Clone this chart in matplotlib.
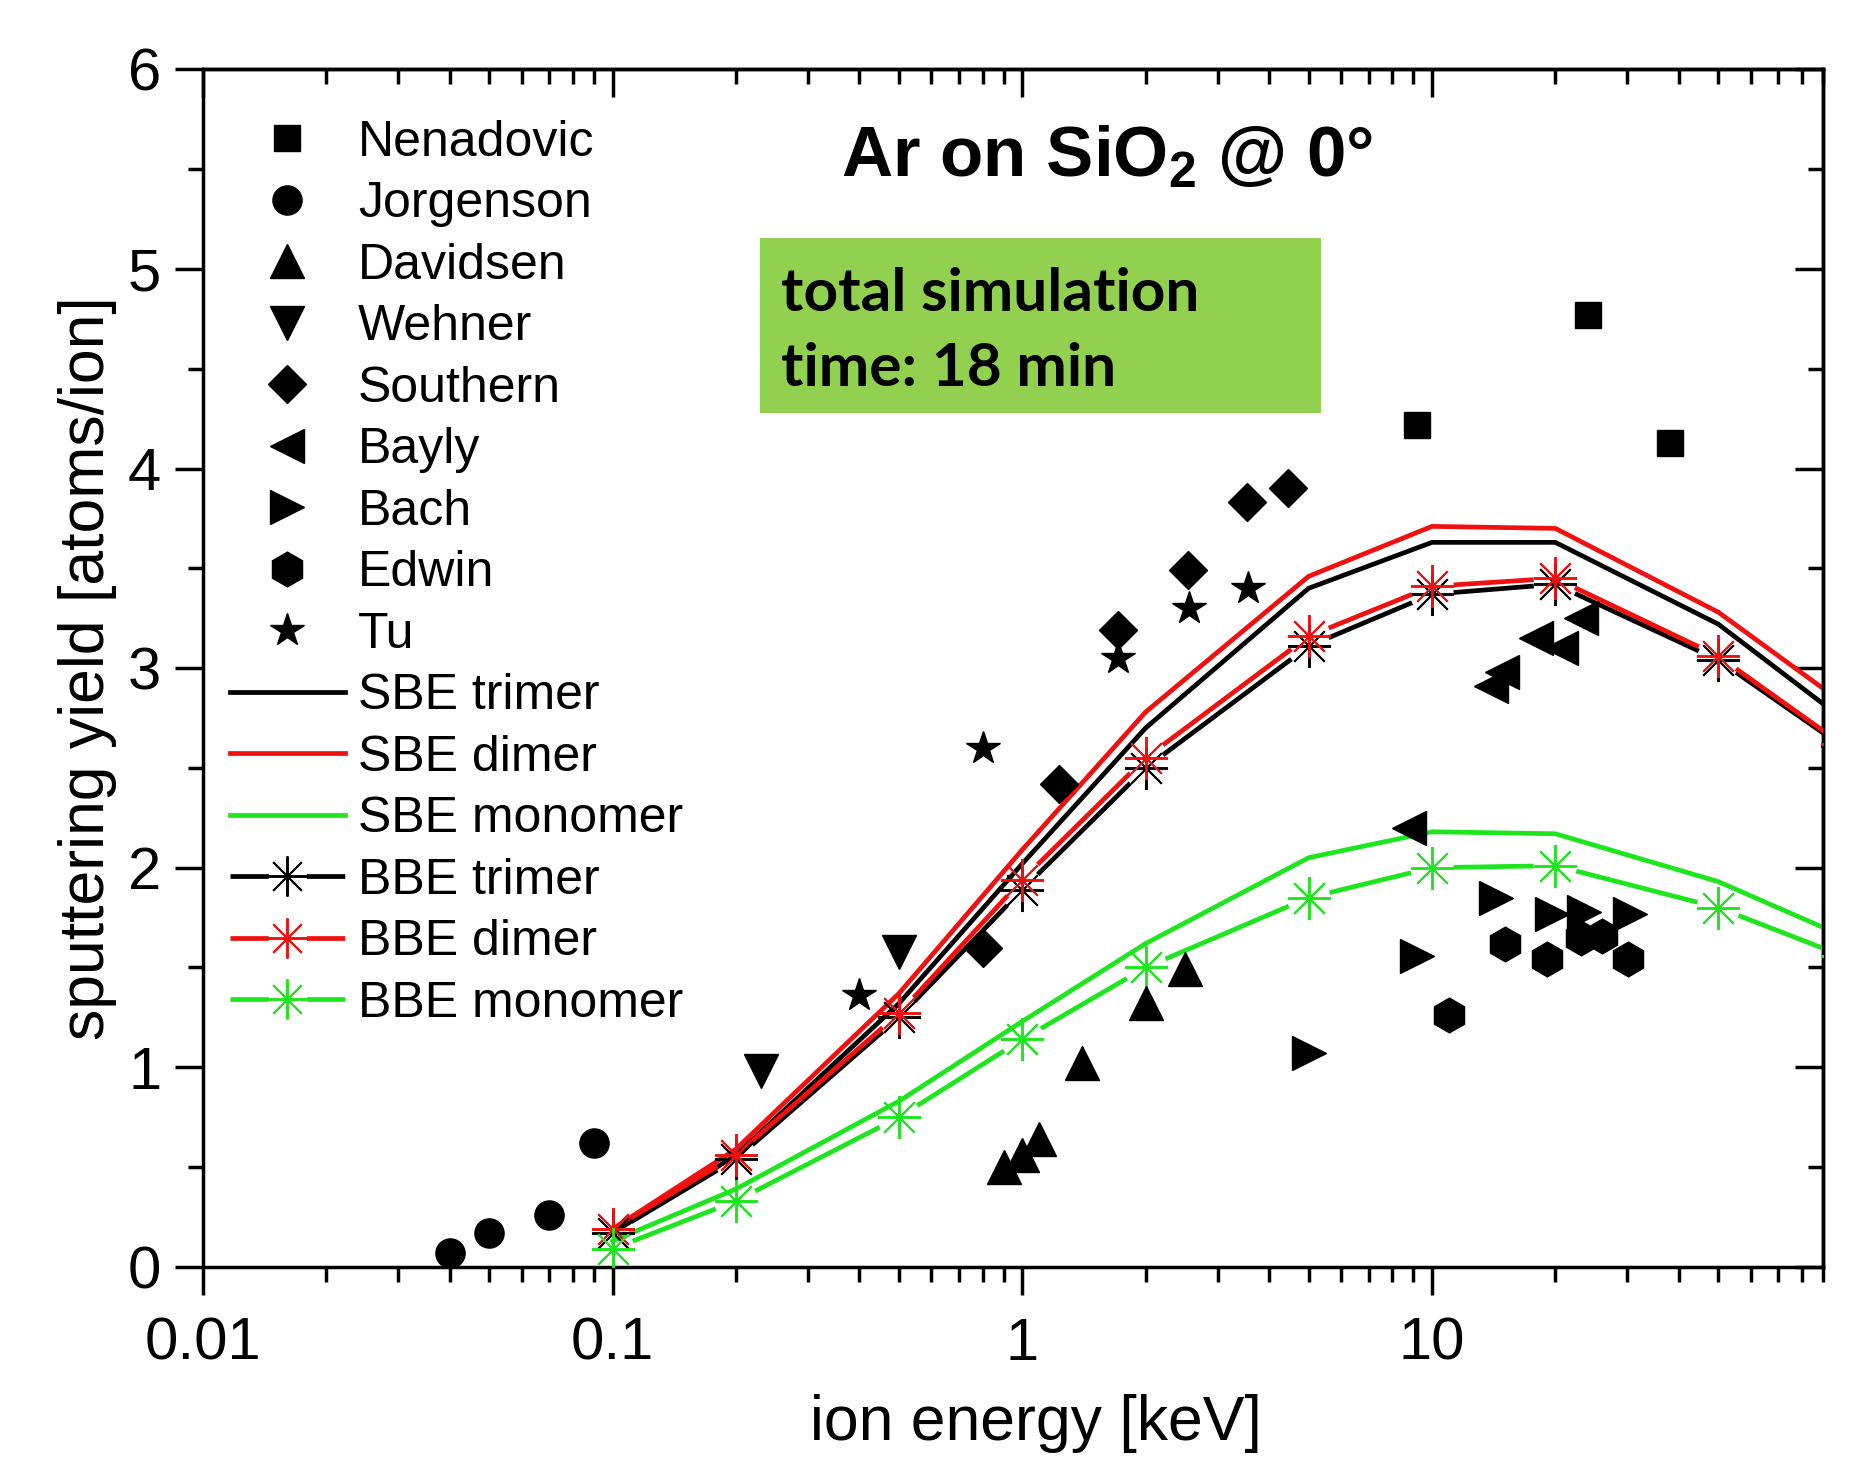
import matplotlib
matplotlib.use('Agg')
import matplotlib.pyplot as plt
import matplotlib.ticker as ticker
from matplotlib.lines import Line2D
from matplotlib.patches import Rectangle
import numpy as np

plt.rcParams['font.family'] = ['Liberation Sans', 'DejaVu Sans']
plt.rcParams['mathtext.fontset'] = 'custom'
plt.rcParams['mathtext.rm'] = 'Liberation Sans'
plt.rcParams['mathtext.bf'] = 'Liberation Sans:bold'

# experimental data: ion energy [keV], sputtering yield [atoms/ion]
nenadovic_E = [9.2, 24, 38]
nenadovic_Y = [4.22, 4.77, 4.13]
jorgenson_E = [0.04, 0.05, 0.07, 0.09]
jorgenson_Y = [0.07, 0.17, 0.26, 0.62]
davidsen_E = [0.9, 1.0, 1.1, 1.4, 2.0, 2.5]
davidsen_Y = [0.50, 0.56, 0.64, 1.02, 1.32, 1.49]
wehner_E = [0.23, 0.5]
wehner_Y = [0.98, 1.58]
southern_E = [0.8, 1.23, 1.71, 2.54, 3.53, 4.46]
southern_Y = [1.60, 2.42, 3.19, 3.49, 3.83, 3.90]
bayly_E = [8.8, 13.9, 14.8, 17.9, 20.7, 23.1]
bayly_Y = [2.20, 2.91, 2.98, 3.15, 3.10, 3.25]
bach_E = [5.0, 9.2, 14.3, 19.6, 23.5, 30.5]
bach_Y = [1.07, 1.56, 1.85, 1.77, 1.78, 1.77]
edwin_E = [11.0, 15.1, 19.1, 23.1, 26.0, 30.1]
edwin_Y = [1.26, 1.62, 1.54, 1.65, 1.66, 1.54]
tu_E = [0.4, 0.8, 1.71, 2.55, 3.55]
tu_Y = [1.36, 2.60, 3.05, 3.30, 3.40]

# simulations
sim_E = [0.1, 0.2, 0.5, 1, 2, 5, 10, 20, 50, 100]
sbe_trimer = [0.17, 0.56, 1.32, 2.02, 2.70, 3.40, 3.63, 3.63, 3.22, 2.75]
sbe_dimer = [0.19, 0.59, 1.37, 2.09, 2.78, 3.46, 3.71, 3.70, 3.28, 2.83]
sbe_monomer = [0.13, 0.39, 0.83, 1.23, 1.62, 2.05, 2.18, 2.17, 1.93, 1.66]
bbe_trimer = [0.17, 0.54, 1.25, 1.89, 2.50, 3.11, 3.37, 3.42, 3.04, 2.61]
bbe_dimer = [0.19, 0.56, 1.27, 1.94, 2.55, 3.16, 3.41, 3.45, 3.06, 2.62]
bbe_monomer = [0.09, 0.33, 0.75, 1.14, 1.50, 1.85, 2.00, 2.01, 1.80, 1.56]

RED = '#f01010'
GREEN = '#1ee61e'
LW = 3.4

fig = plt.figure(figsize=(18.72, 14.69), dpi=100)
ax = fig.add_axes([0.1084, 0.1376, 0.8654, 0.8152])
ax.set_xscale('log')
ax.set_xlim(0.01, 90)
ax.set_ylim(0, 6)

# experimental points
exp = [
    (nenadovic_E, nenadovic_Y, 's', 18.5, 'Nenadovic'),
    (jorgenson_E, jorgenson_Y, 'o', 21, 'Jorgenson'),
    (davidsen_E, davidsen_Y, '^', 25, 'Davidsen'),
    (wehner_E, wehner_Y, 'v', 25, 'Wehner'),
    (southern_E, southern_Y, 'D', 19, 'Southern'),
    (bayly_E, bayly_Y, '<', 25, 'Bayly'),
    (bach_E, bach_Y, '>', 25, 'Bach'),
    (edwin_E, edwin_Y, 'h', 25, 'Edwin'),
    (tu_E, tu_Y, '*', 25, 'Tu'),
]
handles = []
for e, y, m, ms, lab in exp:
    h, = ax.plot(e, y, ls='none', marker=m, ms=ms, color='black', label=lab, zorder=4)
    handles.append(h)

# SBE lines
for y, c, lab in [(sbe_trimer, 'black', 'SBE trimer'),
                  (sbe_dimer, RED, 'SBE dimer'),
                  (sbe_monomer, GREEN, 'SBE monomer')]:
    h, = ax.plot(sim_E, y, color=c, lw=LW, label=lab, zorder=2)
    handles.append(h)

# BBE lines: gaps around the asterisk markers (Origin style)
fig.canvas.draw()
gap = 24
star = (8, 2, 0)
for y, c, lab in [(bbe_trimer, 'black', 'BBE trimer'),
                  (bbe_dimer, RED, 'BBE dimer'),
                  (bbe_monomer, GREEN, 'BBE monomer')]:
    pts = ax.transData.transform(np.column_stack([sim_E, y]))
    xs, ys = [], []
    for p0, p1 in zip(pts[:-1], pts[1:]):
        d = p1 - p0
        u = d / np.hypot(*d)
        a = ax.transData.inverted().transform(p0 + u * gap)
        b = ax.transData.inverted().transform(p1 - u * gap)
        xs += [a[0], b[0], np.nan]
        ys += [a[1], b[1], np.nan]
    ax.plot(xs, ys, color=c, lw=LW, zorder=3)
    ax.plot(sim_E, y, ls='none', marker=star, ms=31, mew=1.4, color=c, zorder=3)
    handles.append(Line2D([], [], color=c, lw=LW, ls=(0, (8.1, 8.1)),
                          marker=star, ms=29, mew=1.4, label=lab))

# axes styling
for s in ax.spines.values():
    s.set_linewidth(2.5)
ax.xaxis.set_major_locator(ticker.FixedLocator([0.01, 0.1, 1, 10]))
ax.xaxis.set_major_formatter(ticker.FuncFormatter(lambda v, p: f'{v:g}'))
ax.xaxis.set_minor_locator(ticker.LogLocator(base=10, subs=np.arange(2, 10)))
ax.xaxis.set_minor_formatter(ticker.NullFormatter())
ax.yaxis.set_major_locator(ticker.MultipleLocator(1))
ax.yaxis.set_minor_locator(ticker.MultipleLocator(0.5))
ax.tick_params(which='major', direction='out', length=20, width=2.5, labelsize=43, pad=10)
ax.tick_params(which='minor', direction='out', length=11, width=2.5)
ax.tick_params(axis='x', pad=16)

secx = ax.secondary_xaxis('top')
secx.xaxis.set_major_locator(ticker.FixedLocator([0.01, 0.1, 1, 10]))
secx.xaxis.set_minor_locator(ticker.LogLocator(base=10, subs=np.arange(2, 10)))
secx.tick_params(which='major', direction='in', length=20, width=2.5, labeltop=False)
secx.tick_params(which='minor', direction='in', length=11, width=2.5)
secx.spines['top'].set_linewidth(2.5)
secy = ax.secondary_yaxis('right')
secy.yaxis.set_major_locator(ticker.MultipleLocator(1))
secy.yaxis.set_minor_locator(ticker.MultipleLocator(0.5))
secy.tick_params(which='major', direction='in', length=20, width=2.5, labelright=False)
secy.tick_params(which='minor', direction='in', length=11, width=2.5)
secy.spines['right'].set_linewidth(2.5)

ax.set_xlabel('ion energy [keV]', fontsize=45)
ax.set_ylabel('sputtering yield [atoms/ion]', fontsize=45)
ax.xaxis.set_label_coords(0.514, -0.106)
ax.yaxis.set_label_coords(-0.053, 0.5)

ax.text(0.394, 0.911, r'Ar on SiO$_\mathbf{2}$ @ 0°', transform=ax.transAxes,
        fontsize=51, fontweight='bold', ha='left', va='baseline')

ax.add_patch(Rectangle((0.344, 0.713), 0.346, 0.146, transform=ax.transAxes,
                       facecolor='#92d050', edgecolor='none', zorder=1))
ax.text(0.357, 0.7986, 'total simulation', transform=ax.transAxes, fontsize=43.5,
        fontweight='bold', family=['Lato', 'DejaVu Sans'], ha='left', va='baseline', zorder=5)
ax.text(0.357, 0.7358, 'time: 18 min', transform=ax.transAxes, fontsize=43.5,
        fontweight='bold', family=['Lato', 'DejaVu Sans'], ha='left', va='baseline', zorder=5)

ax.legend(handles=handles, loc='upper left', bbox_to_anchor=(0.0167, 0.958),
          frameon=False, fontsize=36, numpoints=1, handlelength=2.3,
          handletextpad=0.26, labelspacing=0.31, borderpad=0, borderaxespad=0)

fig.savefig('out.png', dpi=100)
